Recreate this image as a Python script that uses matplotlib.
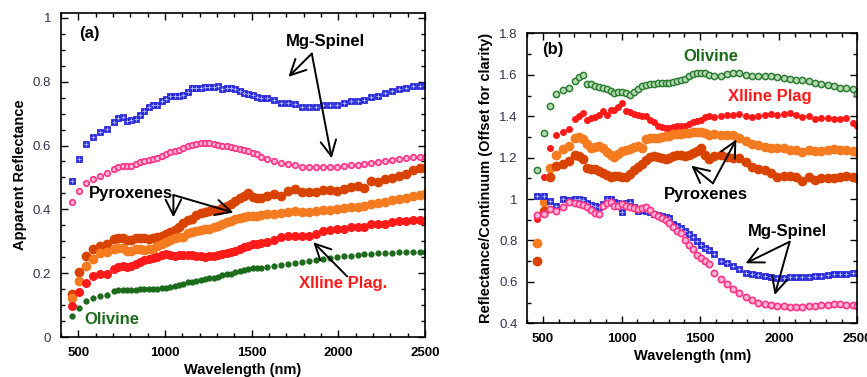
import matplotlib
matplotlib.use("Agg")
import matplotlib.pyplot as plt
from matplotlib.ticker import MultipleLocator

plt.rcParams['font.family'] = ['Liberation Sans', 'DejaVu Sans']

# wavelength grid (nm), shared by both panels
wavelength = [465, 505, 545, 585, 625, 665,
              705, 730, 755, 780, 805, 830, 855, 880, 905, 930, 955, 980,
              1005, 1030, 1055, 1080, 1105, 1130, 1155, 1180, 1205, 1230, 1255, 1280,
              1305, 1330, 1355, 1380, 1405, 1430, 1455, 1480, 1505, 1530, 1555,
              1590, 1630, 1670, 1710, 1750, 1790, 1830, 1870, 1910, 1950, 1990,
              2030, 2070, 2110, 2150, 2190, 2230, 2270, 2310, 2350, 2390, 2430, 2470, 2500]

# ---- panel (a): apparent reflectance ----
a_spinel_sq = [0.490, 0.557, 0.606, 0.627, 0.643, 0.652,
               0.675, 0.685, 0.689, 0.676, 0.680, 0.684, 0.695, 0.708, 0.720, 0.727, 0.727, 0.740,
               0.745, 0.754, 0.754, 0.756, 0.758, 0.768, 0.779, 0.779, 0.780, 0.782, 0.782, 0.784,
               0.787, 0.777, 0.779, 0.779, 0.777, 0.772, 0.766, 0.761, 0.758, 0.752, 0.748,
               0.748, 0.742, 0.733, 0.732, 0.730, 0.721, 0.721, 0.722, 0.727, 0.728, 0.728,
               0.732, 0.739, 0.739, 0.742, 0.751, 0.755, 0.763, 0.772, 0.777, 0.780, 0.785, 0.786, 0.790]
a_spinel_ci = [0.424, 0.458, 0.484, 0.494, 0.505, 0.513,
               0.526, 0.533, 0.536, 0.535, 0.536, 0.541, 0.547, 0.550, 0.554, 0.558, 0.562, 0.567,
               0.574, 0.580, 0.584, 0.587, 0.592, 0.598, 0.602, 0.606, 0.607, 0.609, 0.608, 0.606,
               0.603, 0.600, 0.597, 0.595, 0.592, 0.589, 0.586, 0.583, 0.578, 0.572, 0.565,
               0.558, 0.551, 0.546, 0.541, 0.538, 0.533, 0.533, 0.532, 0.534, 0.534, 0.532,
               0.537, 0.538, 0.539, 0.542, 0.546, 0.548, 0.552, 0.556, 0.559, 0.560, 0.563, 0.563, 0.563]
a_pyx1 = [0.134, 0.203, 0.253, 0.276, 0.285, 0.293,
          0.307, 0.310, 0.311, 0.305, 0.305, 0.309, 0.311, 0.311, 0.308, 0.310, 0.314, 0.317,
          0.322, 0.328, 0.335, 0.345, 0.356, 0.368, 0.370, 0.381, 0.389, 0.393, 0.395, 0.397,
          0.399, 0.404, 0.410, 0.418, 0.426, 0.435, 0.443, 0.450, 0.438, 0.435, 0.436,
          0.443, 0.447, 0.441, 0.459, 0.464, 0.454, 0.454, 0.454, 0.462, 0.461, 0.459,
          0.465, 0.469, 0.472, 0.468, 0.488, 0.486, 0.494, 0.497, 0.506, 0.512, 0.524, 0.528, 0.528]
a_pyx2 = [0.121, 0.175, 0.222, 0.245, 0.262, 0.266,
          0.276, 0.279, 0.279, 0.270, 0.271, 0.276, 0.275, 0.273, 0.275, 0.277, 0.286, 0.293,
          0.299, 0.304, 0.309, 0.312, 0.314, 0.325, 0.329, 0.332, 0.335, 0.337, 0.339, 0.344,
          0.349, 0.355, 0.360, 0.364, 0.370, 0.374, 0.377, 0.379, 0.379, 0.379, 0.381,
          0.384, 0.385, 0.390, 0.392, 0.394, 0.392, 0.392, 0.395, 0.398, 0.398, 0.400,
          0.403, 0.406, 0.408, 0.410, 0.417, 0.421, 0.424, 0.428, 0.432, 0.436, 0.442, 0.445, 0.447]
a_plag = [0.098, 0.140, 0.170, 0.190, 0.196, 0.199,
          0.214, 0.219, 0.223, 0.218, 0.221, 0.228, 0.236, 0.242, 0.245, 0.249, 0.252, 0.256,
          0.259, 0.257, 0.255, 0.256, 0.256, 0.258, 0.257, 0.255, 0.253, 0.252, 0.254, 0.255,
          0.256, 0.261, 0.264, 0.267, 0.271, 0.277, 0.283, 0.286, 0.290, 0.293, 0.295,
          0.299, 0.305, 0.312, 0.316, 0.316, 0.318, 0.318, 0.322, 0.331, 0.335, 0.337,
          0.340, 0.344, 0.346, 0.345, 0.353, 0.353, 0.355, 0.361, 0.363, 0.364, 0.368, 0.366, 0.363]
a_olivine = [0.066, 0.091, 0.112, 0.123, 0.130, 0.133,
             0.143, 0.147, 0.148, 0.147, 0.146, 0.148, 0.149, 0.150, 0.151, 0.151, 0.152, 0.153,
             0.155, 0.157, 0.160, 0.163, 0.167, 0.171, 0.173, 0.175, 0.178, 0.182, 0.184, 0.185,
             0.189, 0.193, 0.196, 0.199, 0.203, 0.207, 0.210, 0.213, 0.216, 0.216, 0.215,
             0.218, 0.223, 0.225, 0.228, 0.232, 0.235, 0.238, 0.241, 0.245, 0.248, 0.251,
             0.253, 0.255, 0.256, 0.259, 0.259, 0.262, 0.262, 0.264, 0.266, 0.266, 0.266, 0.266, 0.266]

# ---- panel (b): continuum removed, offset ----
b_olivine = [1.140, 1.320, 1.450, 1.505, 1.525, 1.537,
             1.570, 1.590, 1.598, 1.558, 1.557, 1.548, 1.539, 1.536, 1.531, 1.524, 1.514, 1.517,
             1.516, 1.510, 1.503, 1.515, 1.533, 1.545, 1.552, 1.555, 1.558, 1.559, 1.560, 1.562,
             1.562, 1.566, 1.569, 1.573, 1.580, 1.596, 1.604, 1.609, 1.610, 1.607, 1.600,
             1.594, 1.595, 1.604, 1.607, 1.608, 1.598, 1.594, 1.594, 1.594, 1.594, 1.588,
             1.584, 1.579, 1.574, 1.573, 1.570, 1.561, 1.554, 1.549, 1.545, 1.534, 1.534, 1.530, 1.507]
b_plag = [0.902, 1.108, 1.245, 1.309, 1.325, 1.340,
          1.385, 1.400, 1.418, 1.381, 1.390, 1.397, 1.405, 1.425, 1.405, 1.430, 1.430, 1.445,
          1.462, 1.426, 1.420, 1.410, 1.405, 1.403, 1.400, 1.382, 1.372, 1.355, 1.347, 1.345,
          1.342, 1.349, 1.352, 1.353, 1.353, 1.362, 1.371, 1.375, 1.384, 1.398, 1.400,
          1.398, 1.401, 1.406, 1.406, 1.411, 1.402, 1.398, 1.401, 1.405, 1.410, 1.405,
          1.410, 1.415, 1.404, 1.394, 1.401, 1.385, 1.390, 1.390, 1.385, 1.386, 1.390, 1.369, 1.353]
b_pyx2 = [0.790, 0.987, 1.150, 1.215, 1.240, 1.255,
          1.295, 1.300, 1.290, 1.265, 1.246, 1.250, 1.258, 1.245, 1.225, 1.214, 1.203, 1.218,
          1.230, 1.237, 1.243, 1.252, 1.255, 1.245, 1.292, 1.293, 1.297, 1.295, 1.298, 1.304,
          1.304, 1.312, 1.314, 1.315, 1.317, 1.320, 1.322, 1.325, 1.322, 1.318, 1.310,
          1.314, 1.308, 1.311, 1.307, 1.295, 1.278, 1.265, 1.259, 1.252, 1.249, 1.245,
          1.245, 1.237, 1.237, 1.225, 1.237, 1.234, 1.234, 1.238, 1.240, 1.239, 1.237, 1.234, 1.229]
b_pyx1 = [0.700, 0.944, 1.105, 1.158, 1.170, 1.185,
          1.212, 1.208, 1.195, 1.150, 1.143, 1.143, 1.134, 1.127, 1.115, 1.108, 1.113, 1.110,
          1.108, 1.108, 1.120, 1.138, 1.153, 1.168, 1.187, 1.203, 1.207, 1.202, 1.197, 1.193,
          1.200, 1.210, 1.213, 1.213, 1.207, 1.212, 1.222, 1.232, 1.245, 1.215, 1.192,
          1.210, 1.215, 1.203, 1.197, 1.197, 1.180, 1.153, 1.146, 1.138, 1.128, 1.108,
          1.111, 1.111, 1.108, 1.085, 1.107, 1.092, 1.100, 1.100, 1.104, 1.108, 1.111, 1.108, 1.100]
b_spinel_sq = [1.015, 1.015, 0.990, 0.968, 0.998, 0.996,
               0.999, 0.999, 0.995, 0.979, 0.973, 0.968, 0.963, 0.975, 1.000, 0.998, 0.988, 0.980,
               0.937, 0.980, 0.987, 0.960, 0.944, 0.946, 0.942, 0.936, 0.930, 0.924, 0.917, 0.914,
               0.910, 0.880, 0.871, 0.860, 0.845, 0.830, 0.815, 0.799, 0.778, 0.763, 0.752,
               0.735, 0.703, 0.690, 0.677, 0.663, 0.641, 0.638, 0.633, 0.628, 0.625, 0.617,
               0.617, 0.622, 0.625, 0.622, 0.625, 0.628, 0.628, 0.633, 0.637, 0.638, 0.639, 0.642, 0.645]
b_spinel_ci = [0.923, 0.930, 0.952, 0.940, 0.960, 0.984,
               0.980, 0.975, 0.970, 0.962, 0.947, 0.935, 0.930, 0.966, 0.980, 0.985, 0.965, 0.966,
               0.978, 0.966, 0.963, 0.955, 0.952, 0.957, 0.962, 0.945, 0.929, 0.919, 0.910, 0.899,
               0.885, 0.865, 0.846, 0.836, 0.800, 0.780, 0.760, 0.732, 0.716, 0.703, 0.686,
               0.643, 0.614, 0.592, 0.564, 0.546, 0.525, 0.512, 0.500, 0.493, 0.488, 0.485,
               0.484, 0.481, 0.480, 0.480, 0.482, 0.486, 0.488, 0.489, 0.492, 0.493, 0.489, 0.488, 0.484]

BLUE = '#2b2bd9'
PINK = '#ff3385'
DKORANGE = '#d84300'
ORANGE = '#f47b20'
RED = '#ff1a1a'
GREEN = '#1b6b1b'

fig = plt.figure(figsize=(8.67, 3.77), dpi=100)
ax1 = fig.add_axes([0.0704, 0.106, 0.420, 0.8594])
ax2 = fig.add_axes([0.608, 0.1424, 0.381, 0.769])


def spinel_squares(ax, y):
    ax.plot(wavelength, y, 's', ms=4.5, mfc=BLUE, mec=BLUE, mew=0.6, ls='none')
    ax.plot(wavelength, y, '+', ms=3, mec='#a8b0ff', mew=0.7, ls='none')


def spinel_circles(ax, y, ms):
    ax.plot(wavelength, y, 'o', ms=ms, mfc='#ffb8d8', mec=PINK, mew=1.2, ls='none')


# panel a
spinel_squares(ax1, a_spinel_sq)
spinel_circles(ax1, a_spinel_ci, 4)
ax1.plot(wavelength, a_pyx1, 'o', ms=6, color=DKORANGE, mec=DKORANGE, ls='none')
ax1.plot(wavelength, a_pyx2, 'o', ms=6, color=ORANGE, mec=ORANGE, ls='none')
ax1.plot(wavelength, a_plag, 'o', ms=5.5, color=RED, mec=RED, ls='none')
ax1.plot(wavelength, a_olivine, 'o', ms=3.5, color=GREEN, mec=GREEN, ls='none')

# panel b
ax2.plot(wavelength, b_olivine, 'o', ms=4.5, mfc='#b5dcb5', mec='#2e7d32', mew=1.1, ls='none')
ax2.plot(wavelength, b_plag, 'o', ms=4, color=RED, mec=RED, ls='none')
ax2.plot(wavelength, b_pyx2, 'o', ms=6, color=ORANGE, mec=ORANGE, ls='none')
ax2.plot(wavelength, b_pyx1, 'o', ms=6, color=DKORANGE, mec=DKORANGE, ls='none')
spinel_squares(ax2, b_spinel_sq)
spinel_circles(ax2, b_spinel_ci, 4.5)

arrow = dict(arrowstyle='->', color='black', lw=1.4, mutation_scale=28,
             shrinkA=0, shrinkB=0)
txt = dict(fontsize=12, fontweight='bold', ha='center', va='center')

# annotations (a)
ax1.text(565, 0.95, '(a)', **txt)
ax1.text(1925, 0.925, 'Mg-Spinel', **txt)
ax1.annotate('', xy=(1711, 0.815), xytext=(1846, 0.888), arrowprops=arrow)
ax1.annotate('', xy=(1961, 0.56), xytext=(1846, 0.888), arrowprops=arrow)
ax1.text(800, 0.449, 'Pyroxenes', **txt)
ax1.annotate('', xy=(1048, 0.375), xytext=(1048, 0.445), arrowprops=arrow)
ax1.annotate('', xy=(1394, 0.39), xytext=(1048, 0.445), arrowprops=arrow)
ax1.text(2025, 0.168, 'Xlline Plag.', color=RED, **txt)
ax1.annotate('', xy=(1855, 0.297), xytext=(2050, 0.19), arrowprops=arrow)
ax1.text(692, 0.054, 'Olivine', color=GREEN, **txt)

# annotations (b)
ax2.text(562, 1.72, '(b)', **txt)
ax2.text(1566, 1.687, 'Olivine', color=GREEN, **txt)
ax2.text(1942, 1.494, 'Xlline Plag', color=RED, **txt)
ax2.text(1534, 1.022, 'Pyroxenes', **txt)
ax2.annotate('', xy=(1444, 1.161), xytext=(1581, 1.076), arrowprops=arrow)
ax2.annotate('', xy=(1730, 1.288), xytext=(1581, 1.076), arrowprops=arrow)
ax2.text(2058, 0.842, 'Mg-Spinel', **txt)
ax2.annotate('', xy=(1789, 0.69), xytext=(2069, 0.794), arrowprops=arrow)
ax2.annotate('', xy=(1974, 0.537), xytext=(2069, 0.794), arrowprops=arrow)

# axes styling
for ax in (ax1, ax2):
    ax.set_xlim(400, 2500)
    ax.set_xticks([500, 1000, 1500, 2000, 2500])
    ax.xaxis.set_minor_locator(MultipleLocator(100))
    ax.tick_params(which='both', direction='in', top=True, right=True, width=1)
    ax.tick_params(which='major', length=5)
    ax.tick_params(which='minor', length=3)
    ax.tick_params(axis='x', labelsize=9.5, pad=7)
    ax.tick_params(axis='y', labelsize=9.5, labelcolor='#333355', pad=7)
    for lab in ax.get_xticklabels():
        lab.set_fontweight('bold')
    for sp in ax.spines.values():
        sp.set_linewidth(1.2)
    ax.set_xlabel('Wavelength (nm)', fontsize=10.5, fontweight='bold', labelpad=3)

ax1.set_ylim(0, 1.015)
ax1.set_yticks([0, 0.2, 0.4, 0.6, 0.8, 1.0])
ax1.set_yticklabels(['0', '0.2', '0.4', '0.6', '0.8', '1'])
ax1.yaxis.set_minor_locator(MultipleLocator(0.05))
ax1.set_ylabel('Apparent Reflectance', fontsize=10.5, fontweight='bold', labelpad=4)

ax2.set_ylim(0.4, 1.8)
ax2.set_yticks([0.4, 0.6, 0.8, 1.0, 1.2, 1.4, 1.6, 1.8])
ax2.set_yticklabels(['0.4', '0.6', '0.8', '1', '1.2', '1.4', '1.6', '1.8'])
ax2.yaxis.set_minor_locator(MultipleLocator(0.1))
ax2.set_ylabel('Reflectance/Continuum (Offset for clarity)', fontsize=10.5,
               fontweight='bold', labelpad=4)

fig.savefig('out.png', dpi=100)
